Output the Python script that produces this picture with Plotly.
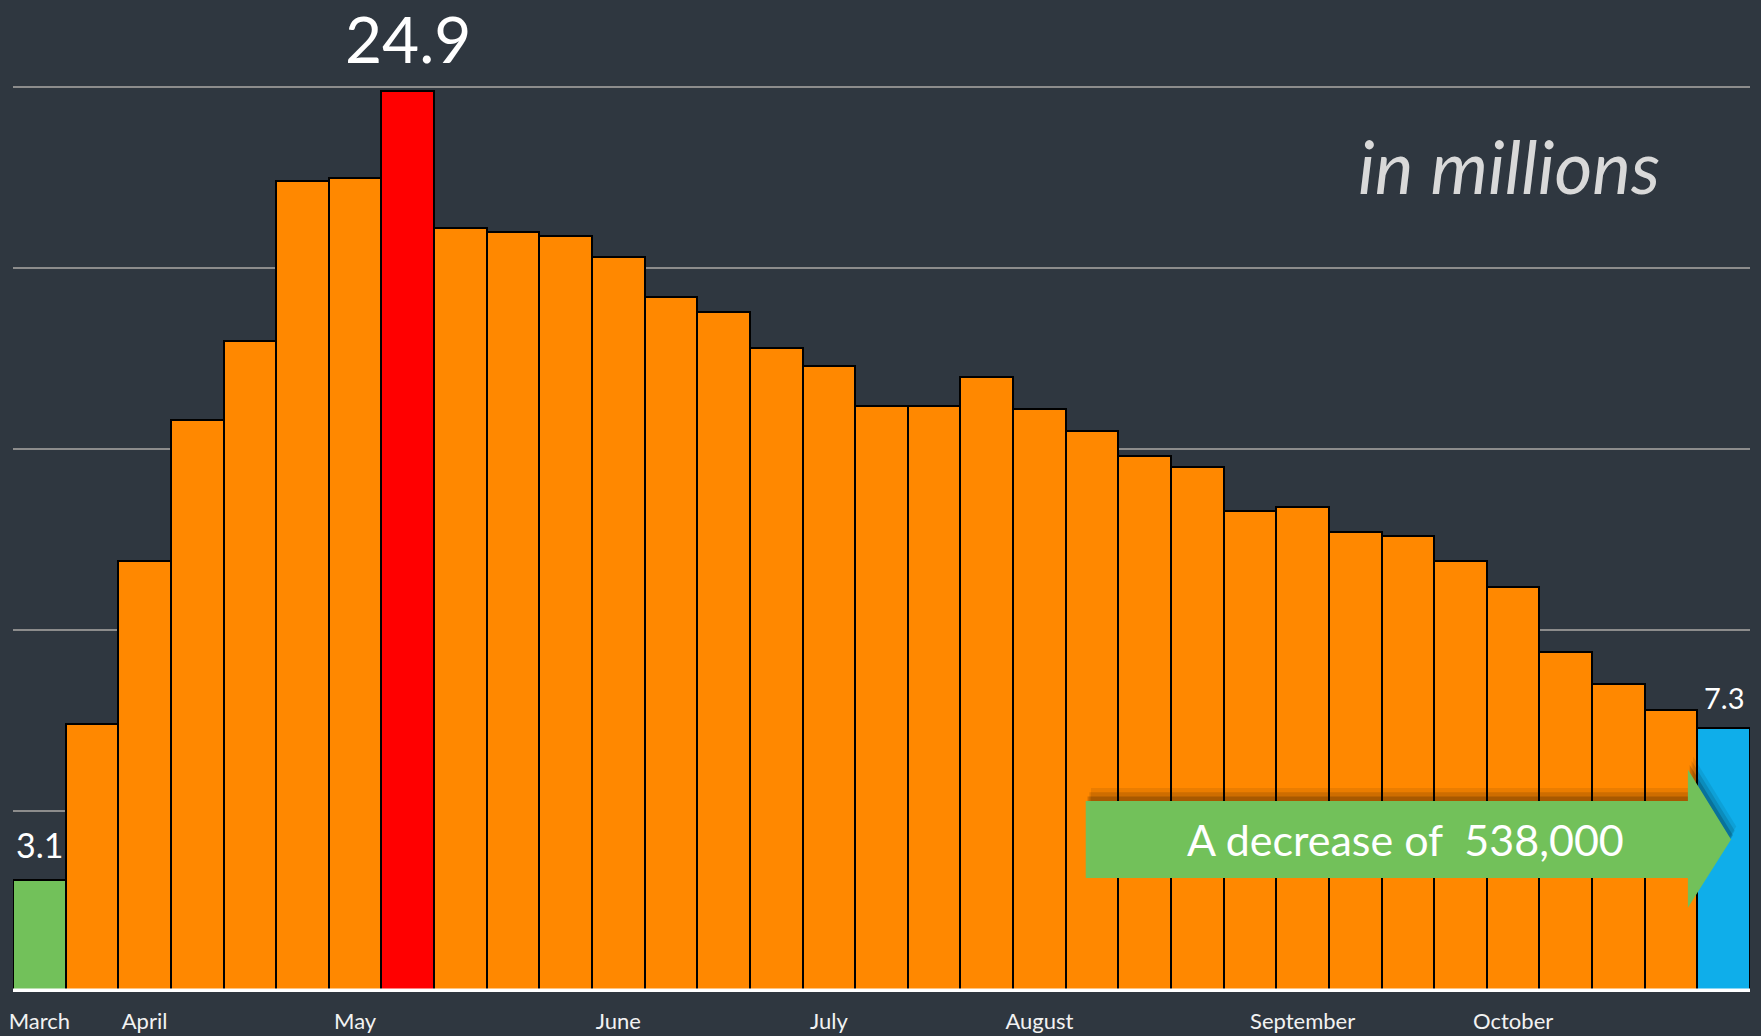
import plotly.graph_objects as go

# weekly continuing claims, millions
weeks = ["Mar 14", "Mar 21", "Mar 28", "Apr 4", "Apr 11", "Apr 18", "Apr 25",
         "May 2", "May 9", "May 16", "May 23", "May 30", "Jun 6", "Jun 13",
         "Jun 20", "Jun 27", "Jul 4", "Jul 11", "Jul 18", "Jul 25", "Aug 1",
         "Aug 8", "Aug 15", "Aug 22", "Aug 29", "Sep 5", "Sep 12", "Sep 19",
         "Sep 26", "Oct 3", "Oct 10", "Oct 17", "Oct 24"]
claims = [3.1, 7.4, 11.9, 15.8, 18.0, 22.4, 22.5, 24.9, 21.1, 21.0, 20.9,
          20.3, 19.2, 18.8, 17.8, 17.3, 16.2, 16.2, 17.0, 16.1, 15.5, 14.8,
          14.5, 13.3, 13.4, 12.7, 12.6, 11.9, 11.2, 9.4, 8.5, 7.8, 7.3]
month_weeks = ["Mar 14", "Mar 28", "Apr 25", "May 30", "Jun 27", "Jul 25",
               "Aug 29", "Sep 26"]
month_names = ["March", "April", "May", "June", "July", "August",
               "September", "October"]
labelled = {"Mar 14": "3.1", "May 2": "24.9", "Oct 24": "7.3"}
arrow_text = "A decrease of  538,000"

BG = "#2F3740"
ORANGE = "#FF8800"
x = list(range(len(weeks)))

colors = [ORANGE] * len(weeks)
colors[0] = "#72C15A"
colors[claims.index(max(claims))] = "#FF0000"
colors[-1] = "#0FAEEA"

fig = go.Figure(go.Bar(x=x, y=claims, marker=dict(color=colors, line=dict(color="black", width=2)),
                       customdata=weeks, hovertemplate="%{customdata}: %{y}M<extra></extra>"))

fig.update_layout(
    width=1761, height=1036,
    paper_bgcolor=BG, plot_bgcolor=BG,
    margin=dict(l=13, r=11, t=15, b=44),
    bargap=0, showlegend=False,
    font=dict(family="Lato", color="white"),
)
fig.update_xaxes(range=[-0.5, len(weeks) - 0.5], showgrid=False, zeroline=False, automargin=False,
                 tickvals=[weeks.index(w) for w in month_weeks], ticktext=month_names,
                 tickfont=dict(size=22, color="#F2F2F2"), ticks="", ticklabelstandoff=14)
fig.update_yaxes(range=[0, 27], dtick=5, showgrid=True, gridcolor="#8C8C8C", gridwidth=1.5,
                 zeroline=False, showticklabels=False, automargin=False)

# white baseline
fig.add_shape(type="line", xref="paper", x0=0, x1=1, yref="y", y0=0, y1=0,
              line=dict(color="white", width=7), layer="above")

# value labels
sizes = {"3.1": 34, "24.9": 64, "7.3": 29}
shifts = {"3.1": 35, "24.9": 52, "7.3": 30}
for w, t in labelled.items():
    i = weeks.index(w)
    fig.add_annotation(x=i, y=claims[i], text=t, showarrow=False, yanchor="middle",
                       yshift=shifts[t], font=dict(size=sizes[t], color="white", family="Lato"))

fig.add_annotation(xref="paper", yref="paper", x=0.8615, y=0.845, xanchor="center", yanchor="middle",
                   text="<i>in millions</i>", showarrow=False,
                   font=dict(size=73, color="#D9D9D9", family="Lato"))

# arrow (with soft shadow)
bx0, bx1, tip = 19.88, 31.32, 32.14
by0, by1, hy0, hy1 = 3.15, 5.28, 2.33, 6.15
ym = (by0 + by1) / 2


def arrow_path(dx=0.0, dy=0.0):
    pts = [(bx0, by0), (bx1, by0), (bx1, hy0), (tip, ym), (bx1, hy1), (bx1, by1), (bx0, by1)]
    return "M " + " L ".join(f"{px + dx},{py + dy}" for px, py in pts) + " Z"


for dx, dy, a in [(0.1, 0.36, 0.08), (0.07, 0.24, 0.12), (0.035, 0.12, 0.18)]:
    fig.add_shape(type="path", path=arrow_path(dx, dy), xref="x", yref="y",
                  fillcolor=f"rgba(0,0,0,{a})", line=dict(width=0), layer="above")
fig.add_shape(type="path", path=arrow_path(), xref="x", yref="y",
              fillcolor="#72C15A", line=dict(width=0), layer="above")
fig.add_annotation(x=(bx0 + bx1) / 2 + 0.35, y=ym, text=arrow_text, showarrow=False,
                   font=dict(size=43, color="white", family="Lato"))

fig.write_html("out.html", config={"displayModeBar": False},
               post_script=f"document.body.style.margin='0';document.body.style.background='{BG}';")
